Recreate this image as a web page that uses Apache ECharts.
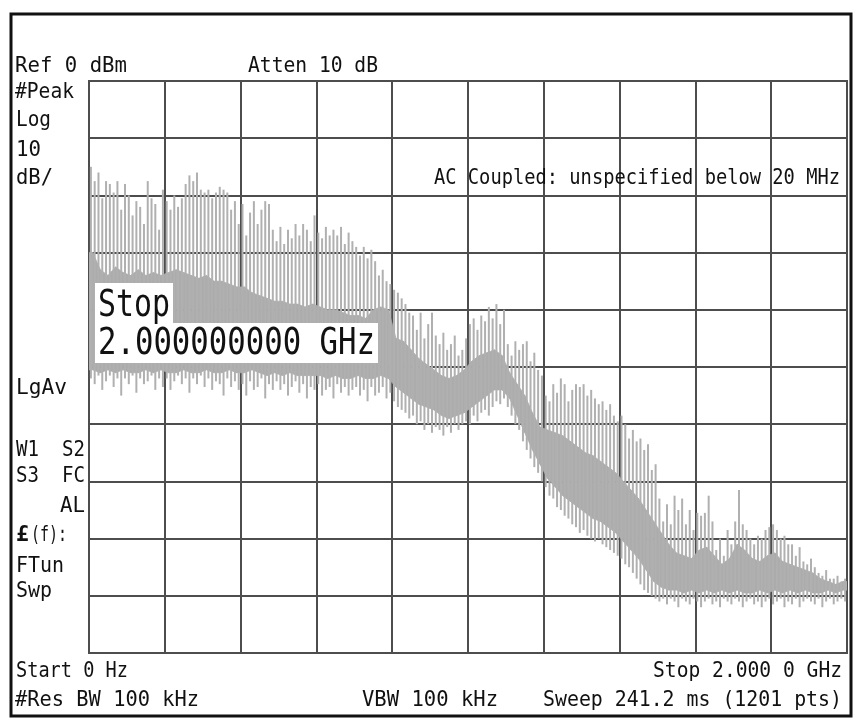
<!DOCTYPE html>
<html>
<head>
<meta charset="utf-8">
<title>Spectrum</title>
<script src="https://cdn.jsdelivr.net/npm/echarts@6/dist/echarts.min.js"></script>
<style>
  html, body { margin: 0; background: #fff; }
  #chart { width: 854px; height: 722px; }
</style>
</head>
<body>
<div id="chart"></div>
<script>
  // span 0 Hz .. 2 GHz, ref 0 dBm, 10 dB/div
  var START_MHZ = 0, STOP_MHZ = 2000
  var REF_DB = 0, BOTTOM_DB = -100

  // spike tops, one per 10 MHz bin (dBm)
  var peakDb = [
    -15, -17.5, -16, -20.5, -17.5, -18, -19.5, -17.5, -22.5, -18,
    -20, -23.5, -21, -22, -25, -17.5, -20.5, -21.5, -26, -19,
    -21, -22.5, -20, -22, -20.5, -18, -16.5, -17.5, -16, -19,
    -19.5, -19, -20.5, -19.5, -18.5, -19, -19.5, -22.5, -21, -25,
    -21.5, -27, -23, -21, -25, -22.5, -21, -21.5, -26, -28,
    -25.5, -28.5, -26, -27.5, -25, -27, -25, -26, -28, -23.5,
    -26.5, -27.5, -25.5, -27, -26, -27, -25.5, -28.5, -26.5, -28,
    -29, -30.5, -29, -31, -29.5, -31.5, -34, -33, -35, -35.5,
    -36.5, -37, -38, -39, -40.5, -41, -43.5, -40.5, -45, -42.5,
    -40.5, -44.5, -46, -44, -47, -46, -44.5, -48, -47, -45,
    -42.5, -41.5, -43.5, -41, -42, -39.5, -41.5, -39, -42.5, -40,
    -46, -48, -45.5, -47, -46, -45.5, -49, -47.5, -50.5, -51.5,
    -55, -56, -53, -54.5, -52, -53, -56, -54, -53, -53.5,
    -53, -55, -54, -55.5, -56.5, -56, -57.5, -56.5, -58.5, -59.5,
    -58.5, -60, -62.5, -61, -63, -62.5, -64.5, -63.5, -68, -67,
    -73, -77, -74, -77.5, -72.5, -75, -73, -77.5, -75, -78.5,
    -75.5, -76, -75.5, -72.5, -77, -82, -80, -83, -78.5, -81,
    -77, -71.5, -77.5, -78.5, -80, -81, -79.5, -80, -78.5, -78,
    -77.5, -78.5, -80, -79.5, -81, -81, -83, -81.5, -84, -84.5,
    -83.5, -85, -86, -86.5, -85.5, -87, -87, -86.5, -87.5, -87
  ]

  // noise dips under the floor, one per 10 MHz bin (dBm)
  var dipDb = [
    -52, -53, -51.5, -54, -52.5, -51.5, -53.5, -52, -55, -52,
    -53, -51.5, -54.5, -52, -53, -52.5, -51.5, -54, -52, -53.5,
    -52, -54, -52.5, -51.5, -53, -52, -54.5, -52, -53, -51.5,
    -53.5, -52, -54, -52.5, -53, -55, -52, -53.5, -52.5, -54,
    -53, -55, -52.5, -54, -53.5, -52, -55.5, -53, -54, -52.5,
    -54, -53, -55, -53.5, -52.5, -54.5, -53, -55.5, -53.5, -54,
    -53, -55, -54, -53.5, -55.5, -53, -54.5, -53.5, -55, -54,
    -53.5, -55, -54, -56, -53.5, -55, -54.5, -53.5, -55.5, -54.5,
    -56, -57, -57.5, -58, -59, -58.5, -60, -59.5, -61, -60,
    -61.5, -60.5, -61, -62, -60.5, -61.5, -60, -61, -60, -59.5,
    -60, -58.5, -59.5, -58, -57.5, -58.5, -57, -56, -56.5, -55.5,
    -57, -58.5, -60, -61, -63, -64.5, -66, -67.5, -68.5, -70,
    -71, -72.5, -73, -74.5, -75, -76, -76.5, -77.5, -78, -79,
    -78.5, -79.5, -80, -80.5, -80, -81, -81.5, -82, -82.5, -83,
    -83.5, -84.5, -85, -86, -87, -88, -89, -89.5, -90, -90.5,
    -91, -90.5, -91.5, -90.5, -91, -92, -90.5, -91, -91.5, -90.5,
    -91, -92, -91, -90.5, -91.5, -91, -92, -90.5, -91, -91.5,
    -90.5, -91, -92, -91, -90.5, -91.5, -91, -92, -91, -90.5,
    -91.5, -91, -90.5, -92, -91, -91.5, -90.5, -92, -91, -90.5,
    -91, -91.5, -90.5, -92, -91, -90.5, -91.5, -91, -90.5, -91
  ]

  // top of the dense trace body, one per 20 MHz bin (dBm)
  var bodyDb = [
    -30, -33, -34, -32.5, -33.5, -34, -33, -34, -33.5, -34,
    -33.5, -33, -33.5, -34, -34.5, -34, -35, -35, -35.5, -36,
    -36, -37, -37.5, -38, -38.5, -38.5, -39, -39, -39.5, -39,
    -39.5, -40, -40, -40.5, -41, -41, -41.5, -40, -39.5, -40,
    -45, -45.5, -47, -48.5, -49.5, -50.5, -51.5, -52, -51.5, -50.5,
    -49, -48, -47.5, -47, -48, -51, -53, -55, -58, -60.5,
    -61, -61.5, -62, -63, -64, -65, -65.5, -66.5, -67.5, -68.5,
    -70, -71.5, -73, -75, -77, -79, -81, -82.5, -83, -83.5,
    -82, -81.5, -83, -84.5, -83.5, -81, -82, -83.5, -84, -83,
    -82.5, -84, -84.5, -85, -85.5, -86, -87, -87.5, -88, -87.5
  ]

  // bottom of the dense body (noise floor), one per 20 MHz bin (dBm)
  var floorDb = [
    -50.5, -51, -50.5, -51, -50.5, -51, -51, -50.5, -51, -50.5,
    -51, -51, -50.5, -51, -51, -50.5, -51, -51, -50.5, -51,
    -51, -50.5, -51, -51.5, -51, -51.5, -51, -51.5, -51.5, -51.5,
    -51.5, -52, -51.5, -52, -52, -51.5, -52, -52, -51.5, -52,
    -53.5, -54.5, -55.5, -56.5, -57, -57.5, -58.5, -59, -58.5, -58,
    -57, -56, -55, -54, -54, -55.5, -58.5, -61.5, -64.5, -67,
    -69.5, -71, -72.5, -73.5, -74.5, -75.5, -76.5, -77, -78, -79,
    -80.5, -82, -83.5, -85.5, -87.5, -88.5, -89, -89, -89.5, -89,
    -89.5, -89, -89.5, -89, -89.5, -89, -89.5, -89.5, -89, -89.5,
    -89, -89.5, -89, -89.5, -89, -89.5, -89.5, -89, -89.5, -89
  ]

  var TRACE = '#acacac'
  var SPIKE = '#b0b0b0'
  var GRIDC = '#4d4d4d'

  var bodyBin = (STOP_MHZ - START_MHZ) / bodyDb.length
  var spikeBin = (STOP_MHZ - START_MHZ) / peakDb.length

  // body outline: bin centres, held flat out to the span edges
  var edgeF = [START_MHZ], edgeTop = [bodyDb[0]], edgeBot = [floorDb[0]]
  bodyDb.forEach(function (v, j) {
    edgeF.push(START_MHZ + (j + 0.5) * bodyBin)
    edgeTop.push(v)
    edgeBot.push(floorDb[j])
  })
  edgeF.push(STOP_MHZ); edgeTop.push(bodyDb[bodyDb.length - 1]); edgeBot.push(floorDb[floorDb.length - 1])

  var bodyData = []
  for (var k = 0; k < edgeF.length - 1; k++) {
    bodyData.push([edgeF[k], edgeF[k + 1], edgeTop[k], edgeTop[k + 1], edgeBot[k], edgeBot[k + 1]])
  }
  var spikeData = peakDb.map(function (pk, i) {
    return [START_MHZ + (i + 0.5) * spikeBin, dipDb[i], pk]
  })

  // screen texts
  var ctx = document.createElement('canvas').getContext('2d')
  function label(str, x, base, w, o) {
    o = o || {}
    var size = o.size || 22
    var font = (o.bold ? 'bold ' : '') + size + 'px "DejaVu Sans Mono", monospace'
    ctx.font = font
    var sx = w ? w / ctx.measureText(str).width : 1
    return {
      type: 'text', x: x, y: base - 0.3 * size, scaleX: sx, z: 100, silent: true,
      style: { text: str, font: font, fill: '#111', textAlign: o.align || 'left', textVerticalAlign: 'middle' }
    }
  }

  var graphics = [
    { type: 'rect', z: 90, silent: true, shape: { x: 11, y: 14, width: 840, height: 702 },
      style: { fill: 'none', stroke: '#111', lineWidth: 3 } },
    // marker box over the trace
    { type: 'rect', z: 95, silent: true, shape: { x: 95, y: 283, width: 78, height: 41 }, style: { fill: '#fff' } },
    { type: 'rect', z: 95, silent: true, shape: { x: 95, y: 323, width: 283, height: 40 }, style: { fill: '#fff' } },
    label('Stop', 98, 317, 72, { size: 37 }),
    label('2.000000000 GHz', 98, 355, 277, { size: 37 }),

    label('Ref 0 dBm', 15, 73, 112),
    label('Atten 10 dB', 248, 73, 130),
    label('#Peak', 15, 99, 59),
    label('Log', 16, 127, 35),
    label('10', 16, 157, 25),
    label('dB/', 16, 185, 37),
    label('AC Coupled: unspecified below 20 MHz', 434, 185, 406),
    label('LgAv', 16, 395, 51),
    label('W1  S2', 16, 457, 69),
    label('S3  FC', 16, 483, 69),
    label('AL', 85, 513, 25, { align: 'right' }),
    label('\u00a3', 16, 542, 13, { bold: true }),
    label('(f):', 31, 542, 36),
    label('FTun', 16, 573, 48),
    label('Swp', 16, 598, 36),
    label('Start 0 Hz', 16, 678, 112),
    label('Stop 2.000 0 GHz', 842, 678, 189, { align: 'right' }),
    label('#Res BW 100 kHz', 15, 707, 184),
    label('VBW 100 kHz', 362, 707, 136),
    label('Sweep 241.2 ms (1201 pts)', 842, 707, 299, { align: 'right' })
  ]

  var hiddenAxis = {
    axisLine: { show: false },
    axisTick: { show: false },
    axisLabel: { show: false },
    splitLine: { show: true, lineStyle: { color: GRIDC, width: 2 } }
  }

  var option = {
    animation: false,
    backgroundColor: '#fff',
    grid: { left: 89, top: 81, width: 758, height: 572, show: true, borderColor: GRIDC, borderWidth: 2 },
    xAxis: Object.assign({ type: 'value', min: START_MHZ, max: STOP_MHZ, interval: 200 }, hiddenAxis),
    yAxis: Object.assign({ type: 'value', min: BOTTOM_DB, max: REF_DB, interval: 10 }, hiddenAxis),
    graphic: graphics,
    series: [
      {
        name: 'body',
        type: 'custom',
        silent: true,
        clip: true,
        encode: { x: [0, 1], y: [2, 3, 4, 5] },
        data: bodyData,
        renderItem: function (params, api) {
          var f0 = api.value(0), f1 = api.value(1)
          var pts = [
            api.coord([f0, api.value(2)]),
            api.coord([f1, api.value(3)]),
            api.coord([f1, api.value(5)]),
            api.coord([f0, api.value(4)])
          ]
          return {
            type: 'polygon',
            shape: { points: pts },
            style: { fill: TRACE, stroke: TRACE, lineWidth: 0.8 }
          }
        }
      },
      {
        name: 'spikes',
        type: 'custom',
        silent: true,
        clip: true,
        encode: { x: 0, y: [1, 2] },
        data: spikeData,
        renderItem: function (params, api) {
          var a = api.coord([api.value(0), api.value(1)])
          var b = api.coord([api.value(0), api.value(2)])
          return {
            type: 'line',
            shape: { x1: a[0], y1: a[1], x2: b[0], y2: b[1] },
            style: { stroke: SPIKE, lineWidth: 2 }
          }
        }
      }
    ]
  }

  var chart = echarts.init(document.getElementById('chart'))
  chart.setOption(option)
</script>
</body>
</html>
